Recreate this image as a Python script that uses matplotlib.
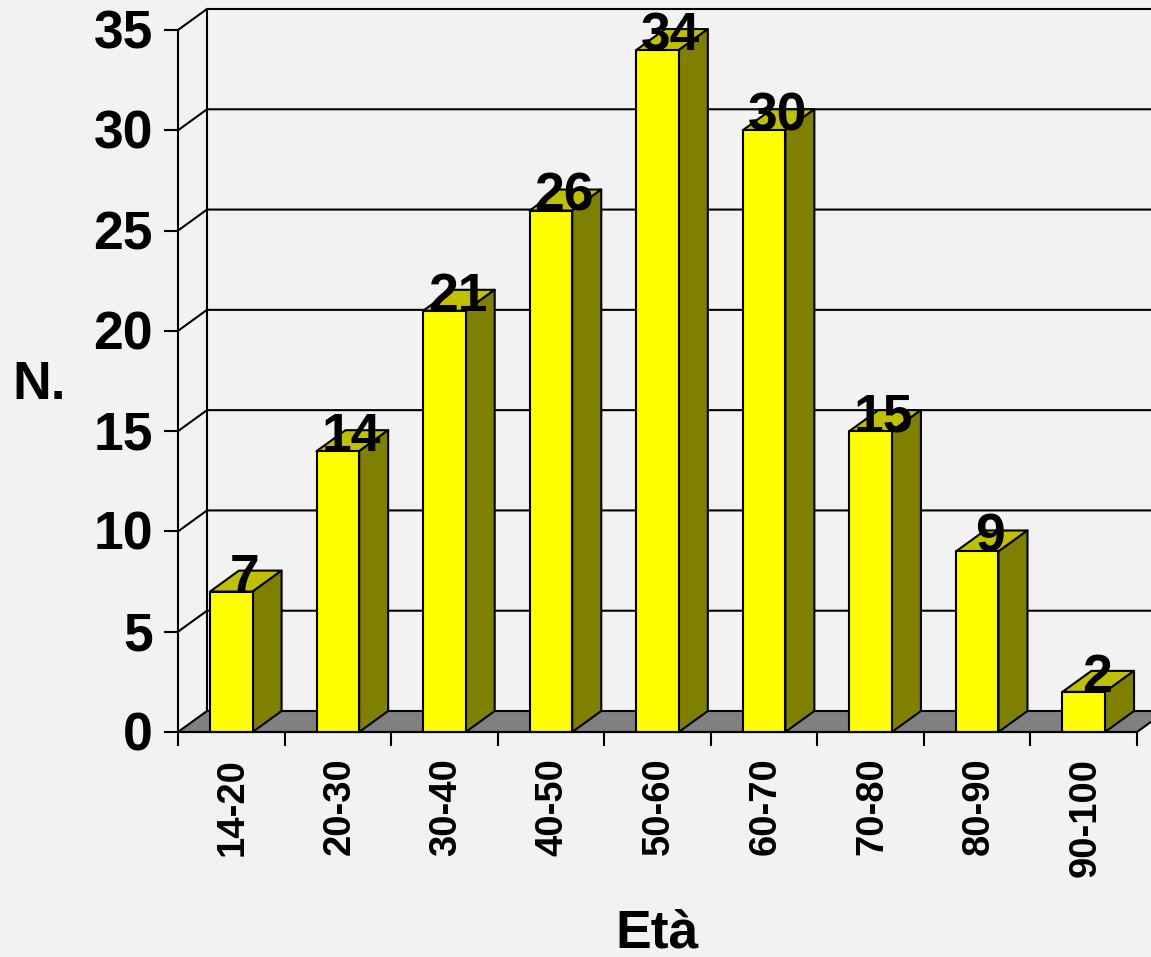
import matplotlib
matplotlib.use('Agg')
import matplotlib.pyplot as plt
from matplotlib.patches import Polygon
from matplotlib.transforms import ScaledTranslation

plt.rcParams['font.family'] = ['Liberation Sans', 'DejaVu Sans']
plt.rcParams['font.weight'] = 'bold'

# age classes and number of cases
classes = ['14-20', '20-30', '30-40', '40-50', '50-60', '60-70', '70-80', '80-90', '90-100']
counts = [7, 14, 21, 26, 34, 30, 15, 9, 2]
yticks = [0, 5, 10, 15, 20, 25, 30, 35]

W, H = 1151, 957
BG = '#F2F2F2'
LW = 1.5
BIG = 38.5

fig = plt.figure(figsize=(W/100, H/100), dpi=100, facecolor=BG)
ax = fig.add_axes([178/W, 1-732/H, (1137-178)/W, (732-30)/H], facecolor='none')
ax.set_xlim(0, len(classes))
ax.set_ylim(0, 35)

# depth of the fake 3D box, in data units
dx = 29/((1137-178)/len(classes))
dy = 21/((732-30)/35)
bw = 0.4
nx = len(classes)


def poly(pts, color, z):
    ax.add_patch(Polygon(pts, closed=True, facecolor=color, edgecolor='k',
                         linewidth=LW, clip_on=False, zorder=z, joinstyle='round'))


# floor, back wall and gridlines
poly([(0, 0), (nx, 0), (nx+dx, dy), (dx, dy)], '#808080', 1)
ax.plot([dx, dx], [dy, 35+dy], color='k', lw=LW, clip_on=False, zorder=1)
for v in yticks[1:]:
    ax.plot([0, dx, nx+dx], [v, v+dy, v+dy], color='k', lw=LW, clip_on=False, zorder=1)

# bars: top and side first, then the front face
for i, v in enumerate(counts):
    x0 = i+0.5-bw/2
    x1 = i+0.5+bw/2
    z = 2+i*0.01
    poly([(x0, v), (x1, v), (x1+dx, v+dy), (x0+dx, v+dy)], '#C0C000', z)
    poly([(x1, 0), (x1+dx, dy), (x1+dx, v+dy), (x1, v)], '#808000', z)
    poly([(x0, 0), (x1, 0), (x1, v), (x0, v)], '#FFFF00', z)
    ax.text(i+0.5+dx/2-0.012, v, str(v), ha='center', va='baseline', fontsize=BIG,
            fontweight='bold', color='k', zorder=5)

for s in ['top', 'right']:
    ax.spines[s].set_visible(False)
for s in ['left', 'bottom']:
    ax.spines[s].set_linewidth(LW)
    ax.spines[s].set_zorder(4)

ax.set_yticks(yticks)
ax.set_yticklabels([str(v) for v in yticks], fontsize=BIG, fontweight='bold')
ax.tick_params(axis='y', length=10, width=LW, pad=8)
up = ScaledTranslation(0, 1/100, fig.dpi_scale_trans)
for lab in ax.get_yticklabels():
    lab.set_transform(lab.get_transform()+up)

ax.set_xticks(range(nx+1))
ax.set_xticklabels([])
ax.set_xticks([i+0.5 for i in range(nx)], minor=True)
ax.set_xticklabels(classes, minor=True, rotation=90, fontsize=27.5, fontweight='bold',
                   ha='center', va='top')
ax.tick_params(axis='x', which='major', length=10, width=LW)
ax.tick_params(axis='x', which='minor', length=0, pad=18.5)
right = ScaledTranslation(1.5/100, 0, fig.dpi_scale_trans)
for lab in ax.get_xticklabels(minor=True):
    lab.set_transform(lab.get_transform()+right)

fig.text(39/W, 1-385/H, 'N.', ha='center', va='center', fontsize=BIG, fontweight='bold')
fig.text(657/W, 1-948/H, 'Età', ha='center', va='baseline', fontsize=BIG, fontweight='bold')

fig.savefig('out.png', dpi=100, facecolor=BG)
